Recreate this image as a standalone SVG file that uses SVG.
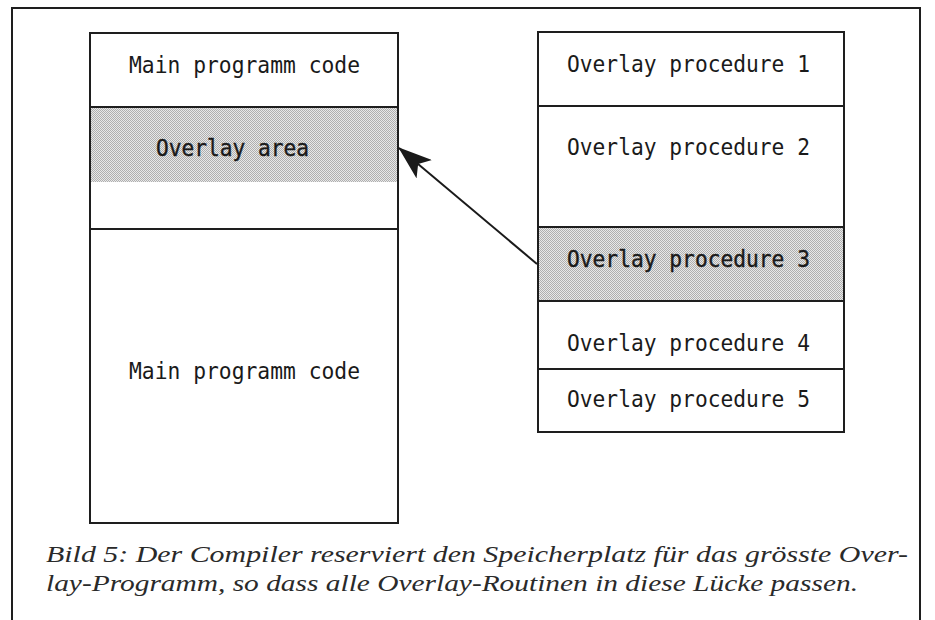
<svg xmlns="http://www.w3.org/2000/svg" width="935" height="620" viewBox="0 0 935 620">
  <style>
    .box { fill: none; stroke: #1e1e1e; stroke-width: 2; }
    .div { stroke: #1e1e1e; stroke-width: 2; }
    .mono { font-family: "DejaVu Sans Mono", "Liberation Mono", monospace; font-size: 23px; fill: #1a1a1a; }
    .dark { stroke: #1a1a1a; stroke-width: 0.4; }
    .cap { font-family: "Liberation Serif", "DejaVu Serif", serif; font-style: italic; font-size: 23px; fill: #2a2a2a; }
    .conn { stroke: #1a1a1a; stroke-width: 2; fill: none; }
  </style>
  <defs>
    <!-- fine stipple used for the highlighted memory areas -->
    <pattern id="stipple" width="2" height="2" patternUnits="userSpaceOnUse">
      <rect width="2" height="2" fill="#e8e8e8"/>
      <rect width="1" height="1" fill="#afafaf"/>
      <rect x="1" y="1" width="1" height="1" fill="#afafaf"/>
    </pattern>
    <marker id="head" viewBox="0 0 34 24" refX="33" refY="12" markerWidth="34" markerHeight="24" markerUnits="userSpaceOnUse" orient="auto">
      <path d="M34 12 L0 0 L8 12 L0 24 Z" fill="#1a1a1a"/>
    </marker>
  </defs>

  <rect width="935" height="620" fill="#ffffff"/>

  <!-- outer frame, open at the bottom -->
  <path d="M12 620 V8 H920 V620" class="box"/>

  <!-- left memory map -->
  <g id="main-memory">
    <rect x="90" y="107" width="308" height="75" fill="url(#stipple)"/>
    <rect x="90" y="33" width="308" height="490" class="box"/>
    <line x1="90" y1="107" x2="398" y2="107" class="div"/>
    <line x1="90" y1="229" x2="398" y2="229" class="div"/>
    <text x="129" y="73" class="mono" textLength="231" lengthAdjust="spacingAndGlyphs">Main programm code</text>
    <text x="156" y="156" class="mono dark" textLength="153" lengthAdjust="spacingAndGlyphs">Overlay area</text>
    <text x="129" y="379" class="mono" textLength="231" lengthAdjust="spacingAndGlyphs">Main programm code</text>
  </g>

  <!-- right list of overlay procedures -->
  <g id="overlay-procedures">
    <rect x="538" y="227" width="306" height="74" fill="url(#stipple)"/>
    <rect x="538" y="32" width="306" height="400" class="box"/>
    <line x1="538" y1="106" x2="844" y2="106" class="div"/>
    <line x1="538" y1="227" x2="844" y2="227" class="div"/>
    <line x1="538" y1="301" x2="844" y2="301" class="div"/>
    <line x1="538" y1="369" x2="844" y2="369" class="div"/>
    <text x="567" y="72" class="mono" textLength="243" lengthAdjust="spacingAndGlyphs">Overlay procedure 1</text>
    <text x="567" y="155" class="mono" textLength="243" lengthAdjust="spacingAndGlyphs">Overlay procedure 2</text>
    <text x="567" y="267" class="mono dark" textLength="243" lengthAdjust="spacingAndGlyphs">Overlay procedure 3</text>
    <text x="567" y="351" class="mono" textLength="243" lengthAdjust="spacingAndGlyphs">Overlay procedure 4</text>
    <text x="567" y="407" class="mono" textLength="243" lengthAdjust="spacingAndGlyphs">Overlay procedure 5</text>
  </g>

  <g id="connectors">
    <line x1="537" y1="264" x2="399" y2="148" class="conn" marker-end="url(#head)"/>
  </g>

  <g id="caption">
    <text x="46" y="562" class="cap" textLength="862" lengthAdjust="spacingAndGlyphs">Bild 5: Der Compiler reserviert den Speicherplatz für das grösste Over-</text>
    <text x="46" y="591" class="cap" textLength="812" lengthAdjust="spacingAndGlyphs">lay-Programm, so dass alle Overlay-Routinen in diese Lücke passen.</text>
  </g>
</svg>
